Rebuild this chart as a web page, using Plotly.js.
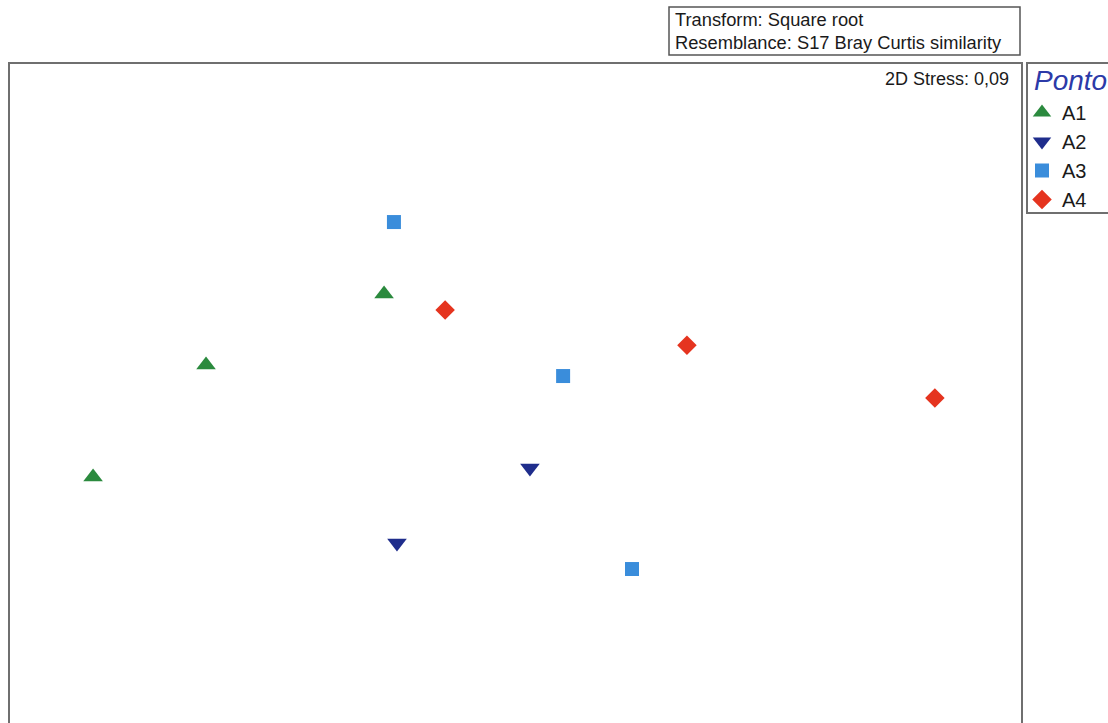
<!DOCTYPE html>
<html>
<head>
<meta charset="utf-8">
<script src="https://cdn.plot.ly/plotly-3.0.1.min.js"></script>
<style>
  html, body { margin: 0; padding: 0; overflow: hidden; background: #fff; }
  #chart { width: 1108px; height: 800px; }
</style>
</head>
<body>
<div id="chart"></div>
<script>
// nMDS ordination of sampling points (ponto A1–A4)
const groups = ["A1", "A2", "A3", "A4"];
const xA1 = [-0.519, -1.222, -1.668];
const yA1 = [0.388, 0.108, -0.335];
const xA2 = [0.057, -0.468];
const yA2 = [-0.299, -0.595];
const xA3 = [-0.480, 0.188, 0.460];
const yA3 = [0.672, 0.064, -0.698];
const xA4 = [-0.278, 0.677, 1.656];
const yA4 = [0.325, 0.186, -0.023];

const xs = [xA1, xA2, xA3, xA4];
const ys = [yA1, yA2, yA3, yA4];
const symbols = ["triangle-up", "triangle-down", "square", "diamond"];
const colors = ["#2b8a3e", "#1f2d8c", "#3a8ddb", "#e5341f"];
const sizes = [17, 17, 14, 15];

const W = 1108, H = 800;
const L = 9, R = 1022, T = 63, B = 780;
// pixel -> paper helpers for the frame and text boxes
const px = v => (v - L) / (R - L);
const py = v => (B - v) / (B - T);

const traces = groups.map((g, i) => ({
  type: "scatter",
  mode: "markers",
  name: g,
  x: xs[i],
  y: ys[i],
  marker: { symbol: symbols[i], color: colors[i], size: sizes[i], line: { width: 0 } }
}));

const layout = {
  width: W,
  height: H,
  margin: { l: L, r: W - R, t: T, b: H - B },
  paper_bgcolor: "#ffffff",
  plot_bgcolor: "#ffffff",
  font: { family: "Liberation Sans, Arial, sans-serif", color: "#1a1a1a" },
  xaxis: { range: [-2, 2], visible: false, fixedrange: true },
  yaxis: { range: [-1.531, 1.3], visible: false, fixedrange: true },
  showlegend: true,
  legend: {
    xref: "container", yref: "container",
    x: 1022 / W, y: 1 - 93 / H,
    xanchor: "left", yanchor: "top",
    bgcolor: "rgba(0,0,0,0)",
    borderwidth: 0,
    font: { size: 20, color: "#1a1a1a" },
    itemwidth: 30
  },
  shapes: [
    // plot frame
    { type: "rect", xref: "paper", yref: "paper", x0: 0, x1: 1, y0: 0, y1: 1,
      line: { color: "#6f6f6f", width: 2 } },
    // legend frame
    { type: "rect", xref: "paper", yref: "paper",
      x0: px(1027), x1: px(1114), y0: py(213), y1: py(63),
      line: { color: "#6f6f6f", width: 2 } },
    // transform / resemblance box
    { type: "rect", xref: "paper", yref: "paper",
      x0: px(669), x1: px(1020), y0: py(55), y1: py(7),
      line: { color: "#555555", width: 1.5 } }
  ],
  annotations: [
    { xref: "paper", yref: "paper", x: px(673), y: py(19), xanchor: "left", yanchor: "middle",
      text: "Transform: Square root", showarrow: false, font: { size: 18.3 } },
    { xref: "paper", yref: "paper", x: px(673), y: py(43), xanchor: "left", yanchor: "middle",
      text: "Resemblance: S17 Bray Curtis similarity", showarrow: false, font: { size: 18.3 } },
    { xref: "paper", yref: "paper", x: px(1011), y: py(79), xanchor: "right", yanchor: "middle",
      text: "2D Stress: 0,09", showarrow: false, font: { size: 18 } },
    // legend heading
    { xref: "paper", yref: "paper", x: px(1032), y: py(80), xanchor: "left", yanchor: "middle",
      text: "<i>Ponto</i>", showarrow: false, font: { size: 28, color: "#2c3aa8" } }
  ]
};

Plotly.newPlot("chart", traces, layout, { displayModeBar: false, staticPlot: true });
</script>
</body>
</html>
